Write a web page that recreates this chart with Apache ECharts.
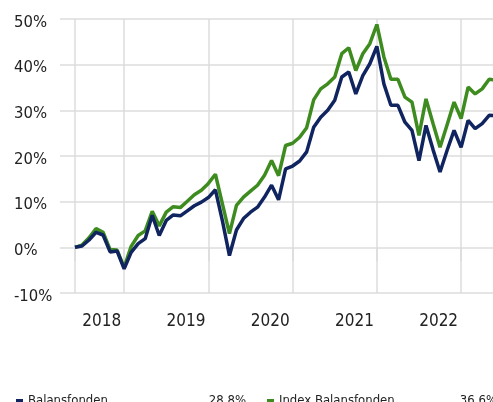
<!DOCTYPE html>
<html>
<head>
<meta charset="utf-8">
<script src="https://cdn.jsdelivr.net/npm/echarts@6/dist/echarts.min.js"></script>
<style>
html,body{margin:0;padding:0;background:#fff;}
#main{width:493px;height:402px;}
</style>
</head>
<body>
<div id="main"></div>
<script>
// monthly values, index 0 = end of May 2018
var balansfonden = [0.0,0.3,1.6,3.3,2.7,-1.0,-0.8,-4.7,-1.1,0.8,1.9,7.0,2.6,5.9,7.1,6.9,8.0,9.1,9.9,10.9,
    12.6,5.8,-1.8,3.8,6.3,7.7,8.8,11.0,13.6,10.4,17.2,17.8,18.9,20.9,26.3,28.5,30.0,32.2,37.3,38.4,
    33.6,37.6,40.2,44.0,35.8,31.1,31.1,27.4,25.6,19.0,26.7,21.4,16.5,21.2,25.6,21.9,27.8,26.0,27.1,28.9,28.8];
var indexBalansfonden = [0.0,0.5,2.1,4.1,3.3,-0.5,-0.6,-4.4,0.2,2.6,3.6,7.9,4.7,7.7,8.9,8.7,10.1,11.5,12.5,14.0,
    16.0,9.5,3.0,9.2,11.0,12.3,13.6,15.8,19.0,15.7,22.3,22.8,24.1,26.2,32.3,34.7,35.8,37.3,42.4,43.7,
    38.7,42.4,44.6,48.8,41.7,36.8,36.8,32.9,31.8,24.5,32.5,27.1,21.9,26.8,31.8,28.2,35.1,33.6,34.7,36.8,36.6];
var seriesNames = ['Balansfonden','Index Balansfonden'];
var lastValues = ['28.8%','36.6%'];
var yearLabels = ['2018','2019','2020','2021','2022'];
var yearEnds = [7,19,31,43,55];   // month index of each year end
var tickMonths = [0].concat(yearEnds);

function pairs(arr){
    return arr.map(function(v,i){ return [i,v]; });
}

var font = "'DejaVu Sans Condensed', Roboto, sans-serif";
var gridColor = '#dcdcdc';
var myChart = echarts.init(document.getElementById('main'));
var option = {
    animation: false,
    textStyle: {fontFamily: font},
    grid: {left: 60, right: 0, top: 19, bottom: 109},
    legend: {
        data: seriesNames,
        left: 11,
        top: 389,
        width: 482,
        icon: 'rect',
        itemWidth: 7,
        itemHeight: 3,
        itemGap: 21,
        selectedMode: false,
        formatter: function(name){
            return '{n|' + name + '}{v|' + lastValues[seriesNames.indexOf(name)] + '}';
        },
        textStyle: {
            fontFamily: font,
            fontSize: 13,
            color: '#222',
            rich: {
                n: {width: 164, fontSize: 13, fontFamily: font, color: '#222'},
                v: {width: 54, align: 'right', fontSize: 13, fontFamily: font, color: '#222'}
            }
        }
    },
    xAxis: {
        type: 'value',
        min: -15 / 7.02,
        max: 418 / 7.02,
        axisLine: {show: false},
        axisTick: {
            show: true,
            customValues: tickMonths,
            length: 14,
            lineStyle: {color: gridColor, width: 1.5}
        },
        splitLine: {show: true, lineStyle: {color: gridColor, width: 1.5}},
        axisLabel: {
            customValues: yearEnds,
            formatter: function(v){ return yearLabels[yearEnds.indexOf(v)]; },
            align: 'right',
            padding: [0, 3, 0, 0],
            margin: 20,
            fontSize: 17,
            color: '#222',
            fontFamily: font
        }
    },
    yAxis: {
        type: 'value',
        min: -10,
        max: 50,
        interval: 10,
        axisLine: {show: false},
        axisTick: {show: false},
        splitLine: {lineStyle: {color: gridColor, width: 1.5}},
        axisLabel: {
            formatter: '{value}%',
            align: 'left',
            verticalAlign: 'top',
            lineHeight: 7,
            margin: 46,
            fontSize: 16.5,
            color: '#222',
            fontFamily: font
        }
    },
    series: [
        {
            name: seriesNames[0],
            type: 'line',
            z: 3,
            showSymbol: false,
            symbol: 'none',
            color: '#10245f',
            lineStyle: {width: 3.5, color: '#10245f'},
            data: pairs(balansfonden)
        },
        {
            name: seriesNames[1],
            type: 'line',
            z: 2,
            showSymbol: false,
            symbol: 'none',
            color: '#3e8c1f',
            lineStyle: {width: 3.5, color: '#3e8c1f'},
            data: pairs(indexBalansfonden)
        }
    ]
};
myChart.setOption(option);
</script>
</body>
</html>
